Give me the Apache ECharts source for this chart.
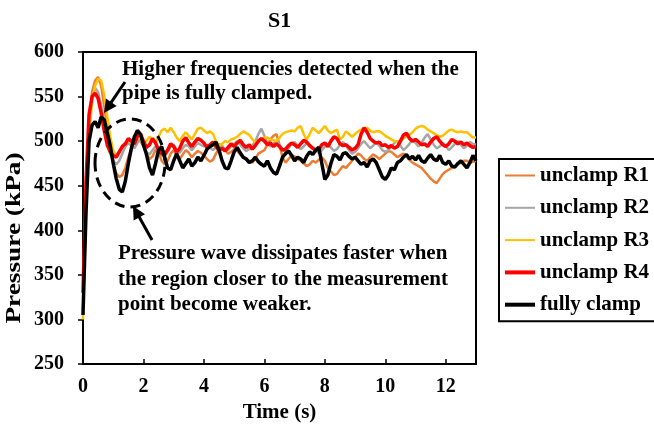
<!DOCTYPE html>
<html>
<head>
<meta charset="utf-8">
<script src="https://cdn.jsdelivr.net/npm/echarts@6/dist/echarts.min.js"></script>
<style>
html,body{margin:0;padding:0;background:#fff;}
#chart{width:654px;height:428px;}
</style>
</head>
<body>
<div id="chart"></div>
<script>
// ---- data ----
const time = [0,0.1,0.2,0.3,0.4,0.5,0.6,0.7,0.8,0.9,
1,1.1,1.2,1.3,1.4,1.5,1.6,1.7,1.8,1.9,
2,2.1,2.2,2.3,2.4,2.5,2.6,2.7,2.8,2.9,
3,3.1,3.2,3.3,3.4,3.5,3.6,3.7,3.8,3.9,
4,4.1,4.2,4.3,4.4,4.5,4.6,4.7,4.8,4.9,
5,5.1,5.2,5.3,5.4,5.5,5.6,5.7,5.8,5.9,
6,6.1,6.2,6.3,6.4,6.5,6.6,6.7,6.8,6.9,
7,7.1,7.2,7.3,7.4,7.5,7.6,7.7,7.8,7.9,
8,8.1,8.2,8.3,8.4,8.5,8.6,8.7,8.8,8.9,
9,9.1,9.2,9.3,9.4,9.5,9.6,9.7,9.8,9.9,
10,10.1,10.2,10.3,10.4,10.5,10.6,10.7,10.8,10.9,
11,11.1,11.2,11.3,11.4,11.5,11.6,11.7,11.8,11.9,
12,12.1,12.2,12.3,12.4,12.5,12.6,12.7,12.8,12.9,
13];

const unclampR1 = [310,430,520,555,568,572,562,540,515,492,
475,464,460,462,470,482,492,498,502,500,
494,486,480,483,490,488,478,474,478,486,
490,484,480,485,490,487,482,486,489,487,
484,480,477,479,486,492,495,490,486,488,
491,489,485,482,480,478,476,480,486,488,
490,496,502,506,508,496,482,476,480,484,
483,480,478,475,472,474,478,476,479,482,
478,470,466,462,463,468,472,470,474,478,
482,486,484,480,478,482,485,483,480,483,
486,489,488,485,482,484,486,483,479,476,
474,472,470,466,462,458,455,453,458,463,
466,468,470,472,474,476,478,478,476,477,
478];

const unclampR2 = [310,430,515,548,560,555,540,520,500,486,
478,474,478,486,494,498,495,492,498,502,
496,488,485,490,494,490,484,483,488,494,
496,490,487,492,496,494,490,494,498,496,
494,496,493,490,493,497,494,491,490,494,
497,500,496,492,489,491,495,500,508,514,
506,498,494,497,501,496,491,488,492,497,
499,495,491,494,498,496,492,489,487,490,
494,497,493,489,491,496,499,495,490,486,
488,492,497,500,496,492,495,499,495,490,
488,490,494,498,500,495,490,493,497,502,
498,494,498,504,508,502,496,492,494,498,
495,490,493,497,500,496,492,495,499,497,
496];

const unclampR3 = [300,420,505,545,562,570,568,552,528,505,
490,484,488,495,498,502,498,500,506,503,
498,500,505,502,498,505,512,514,510,515,
510,504,500,506,510,506,502,508,514,515,
512,509,511,508,500,495,497,500,499,502,
503,505,508,511,509,507,502,499,501,502,
504,504,502,501,500,504,508,510,511,512,
511,515,517,508,502,508,515,512,509,513,
517,512,509,511,513,502,505,511,508,505,
508,511,513,514,515,512,510,511,511,509,
506,504,502,500,499,501,503,505,507,510,
514,516,517,516,513,511,509,507,505,506,
509,512,513,511,510,511,510,510,507,504,
504];

const unclampR4 = [330,455,530,550,554,548,532,512,496,488,
484,482,488,494,497,503,500,497,506,508,
500,493,496,503,498,490,486,485,490,497,
494,488,492,500,504,498,494,499,503,501,
498,493,496,499,494,490,492,489,493,497,
494,498,501,496,493,496,491,495,500,503,
500,496,498,494,497,494,490,491,495,498,
496,493,497,501,499,495,492,490,491,496,
498,494,500,505,503,497,495,496,493,490,
492,496,508,515,510,503,500,498,499,495,
496,493,495,492,494,500,507,509,503,500,
502,499,496,497,494,499,503,505,500,496,
494,497,502,500,497,499,496,498,495,493,
494];

const fullyClamp = [305,420,500,518,522,515,527,524,510,495,
475,458,446,443,455,475,492,505,512,508,
496,485,470,462,475,490,494,482,470,468,
478,486,478,470,475,480,472,476,482,478,
484,491,494,496,499,490,478,470,469,478,
488,493,487,482,480,476,478,482,477,474,
472,478,470,465,463,472,482,486,489,484,
478,482,480,476,483,488,485,490,493,475,
457,462,475,485,483,479,486,487,483,480,
482,478,474,476,471,478,480,476,468,460,
457,462,470,468,476,478,482,485,480,483,
479,484,478,476,481,485,480,478,484,476,
474,478,472,471,475,478,474,470,476,484,
478];

const seriesNames = ['unclamp R1','unclamp R2','unclamp R3','unclamp R4','fully clamp'];
const seriesValues = [unclampR1, unclampR2, unclampR3, unclampR4, fullyClamp];
const xTicks = {min: 0, max: 13, interval: 2};
const yTicks = {min: 250, max: 600, interval: 50};

// ---- styles ----
const colors = ['#ED7D31','#A5A5A5','#FFC000','#FF0000','#000000'];
const widths = [2.5,2.5,2.5,3.5,3.5];
const FONT = 'Liberation Serif';
const tickTxt = {fontFamily: FONT, fontWeight: 'bold', fontSize: 20, color: '#000'};
const bigTxt = {fontFamily: FONT, fontWeight: 'bold', fontSize: 21, color: '#000'};
const thinIcon = 'path://M0,0H30V2H0Z';
const thickIcon = 'path://M0,0H30V4H0Z';

function pairs(vals){ return vals.map((v,i)=>[time[i], v]); }

function arrow(x1,y1,x2,y2){
  const dx = x2-x1, dy = y2-y1, L = Math.hypot(dx,dy);
  const ux = dx/L, uy = dy/L, hl = 13, hw = 6.5;
  const bx = x2-ux*hl, by = y2-uy*hl;
  return [
    {type:'line', shape:{x1:x1,y1:y1,x2:bx+ux*2,y2:by+uy*2}, style:{stroke:'#000',lineWidth:3}, z:100},
    {type:'polygon', shape:{points:[[x2,y2],[bx-uy*hw,by+ux*hw],[bx+uy*hw,by-ux*hw]]}, style:{fill:'#000'}, z:100}
  ];
}
function label(x,y,t){
  return {type:'text', x:x, y:y, z:100, style:{text:t, fill:'#000', font:'bold 21px "Liberation Serif"', verticalAlign:'middle', align:'left'}};
}

const chart = echarts.init(document.getElementById('chart'), null, {renderer:'canvas'});
chart.setOption({
  backgroundColor:'#fff',
  animation:false,
  title:{text:'S1', left:263, top:5, textStyle:{fontFamily: FONT, fontWeight:'bold', fontSize:22, color:'#000'}},
  grid:{left:83, right:178, top:52, bottom:61, show:true, borderColor:'#000', borderWidth:2, backgroundColor:'transparent'},
  legend:{
    orient:'vertical', left:499, top:159,
    itemGap:11.3, itemWidth:30, itemHeight:14,
    borderColor:'#000', borderWidth:2, padding:[6,6,6,6],
    textStyle:Object.assign({}, bigTxt),
    data:seriesNames.map((n,i)=>({name:n, icon: widths[i] > 3 ? thickIcon : thinIcon, itemStyle:{color:colors[i]}}))
  },
  xAxis:{
    type:'value', min:xTicks.min, max:xTicks.max, interval:xTicks.interval,
    name:'Time (s)', nameLocation:'middle', nameGap:33, nameTextStyle:Object.assign({}, bigTxt),
    axisLine:{lineStyle:{color:'#000', width:2}},
    axisTick:{inside:true, length:5, lineStyle:{color:'#000', width:1.5}},
    axisLabel:Object.assign({margin:13, showMaxLabel:false}, tickTxt),
    splitLine:{show:false}
  },
  yAxis:{
    type:'value', min:yTicks.min, max:yTicks.max, interval:yTicks.interval,
    axisLine:{show:true, lineStyle:{color:'#000', width:2}},
    axisTick:{show:true, inside:false, length:5, lineStyle:{color:'#000', width:1.5}},
    axisLabel:Object.assign({margin:19}, tickTxt),
    splitLine:{show:false}
  },
  graphic:[
    {type:'text', x:15, y:238, rotation:Math.PI/2, scaleX:1.3, z:100,
     style:{text:'Pressure (kPa)', fill:'#000', font:'bold 21px "Liberation Serif"', align:'center', verticalAlign:'middle'}},
    {type:'ellipse', shape:{cx:130, cy:163, rx:35, ry:44}, z:100,
     style:{fill:null, stroke:'#000', lineWidth:3, lineDash:[10,6]}},
    label(122,70,'Higher frequencies detected when the'),
    label(122,94,'pipe is fully clamped.'),
    label(118,254,'Pressure wave dissipates faster when'),
    label(118,280,'the region closer to the measurement'),
    label(118,305,'point become weaker.'),
    ...arrow(125,82,104,113),
    ...arrow(152,240,133,206)
  ],
  series: seriesNames.map((n,i)=>({
    name:n, type:'line', data:pairs(seriesValues[i]),
    symbol:'none', smooth:false,
    lineStyle:{color:colors[i], width:widths[i]},
    itemStyle:{color:colors[i]},
    z: 2+i
  }))
});
</script>
</body>
</html>
